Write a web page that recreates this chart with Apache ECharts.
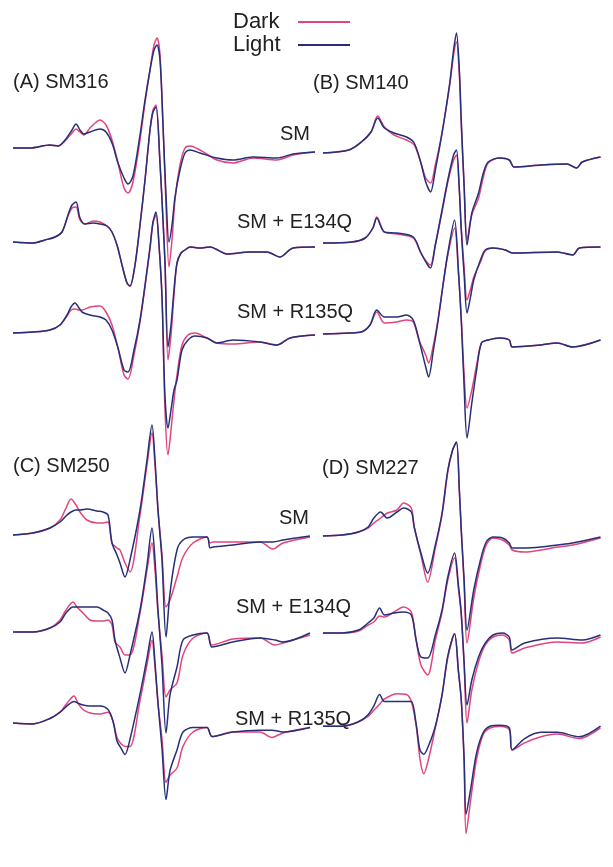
<!DOCTYPE html>
<html>
<head>
<meta charset="utf-8">
<title>EPR spectra dark / light</title>
<script src="https://cdn.jsdelivr.net/npm/echarts@6/dist/echarts.min.js"></script>
<style>
  html, body { margin: 0; padding: 0; background: #fff; }
  #chart { width: 613px; height: 867px; }
</style>
</head>
<body>
<div id="chart"></div>
<script>
// field (arb. units from left edge of each panel) and signal (arb. units, 0 = baseline)

// (A) SM316
var aSmField = [0,17,37,45,52,59,63,67,71,77,87,93,99,105,111,115,120,127,132,137,141,144,147,150,153,156,159,162,167,172,177,187,204,220,240,264,280,302]
var aSmDark = [0,0,3,2,7,15,19,16,13,20,28,23,8,-15,-40,-45,-34,8,45,78,103,110,93,23,-57,-119,-92,-52,-17,0,2,-2,-12,-15,-10,-12,-7,-4]
var aSmLight = [0,0,3,2,8,18,24,18,14,16,19,16,5,-15,-30,-36,-28,13,48,78,98,103,88,23,-47,-94,-77,-49,-22,-5,-2,-5,-10,-12,-9,-10,-6,-4]

var aEField = [0,20,32,42,49,55,59,63,67,72,80,87,94,99,104,109,114,117,122,127,132,137,140,143,147,150,152,155,158,161,164,168,172,177,187,197,214,237,254,267,280,302]
var aEDark = [0,-1,2,5,10,26,34,35,22,18,21,20,16,10,-3,-23,-41,-44,-23,17,62,112,132,137,79,22,-21,-118,-93,-53,-21,-11,-8,-5,-6,-5,-12,-10,-10,-15,-6,-5]
var aELight = [0,-1,2,5,10,27,37,40,24,18,19,18,16,10,-3,-23,-41,-44,-23,17,62,112,130,135,79,22,-21,-105,-83,-48,-21,-11,-8,-5,-6,-5,-12,-10,-10,-15,-6,-5]

var aRField = [0,20,37,47,54,58,62,66,69,77,87,93,99,105,111,115,121,127,132,137,140,143,146,149,152,155,158,161,164,169,175,182,194,204,220,247,264,277,302]
var aRDark = [0,1,3,8,17,23,24,23,23,26,27,21,8,-15,-42,-46,-22,11,46,84,110,118,88,36,-77,-122,-97,-67,-42,-12,-2,0,-5,-10,-11,-9,-12,-5,-2]
var aRLight = [0,1,3,8,18,26,30,25,21,18,16,13,3,-15,-37,-39,-17,13,48,86,111,121,88,36,-64,-95,-77,-57,-47,-17,-7,-3,-5,-10,-7,-9,-12,-5,-2]

// (B) SM140
var bSmField = [1,28,41,51,58,65,75,88,96,103,108,113,118,125,133,137,140,143,145,148,151,156,163,168,173,185,195,200,228,255,265,271,290]
var bSmDark = [0,3,11,21,37,26,18,13,8,-10,-25,-30,-12,20,68,98,111,78,28,-32,-87,-62,-45,-24,-10,-5,-7,-14,-12,-11,-15,-9,-4]
var bSmLight = [0,3,11,21,35,25,20,16,10,-10,-29,-39,-17,20,70,103,120,83,33,-34,-92,-60,-40,-20,-9,-5,-7,-14,-12,-11,-15,-9,-4]

var bEField = [1,31,45,53,57,65,78,95,103,110,113,118,125,131,137,140,143,145,148,151,155,158,165,170,178,191,198,245,261,268,290]
var bEDark = [0,1,5,15,26,11,9,5,-10,-20,-22,-2,31,61,83,88,53,15,-25,-57,-45,-34,-19,-8,-5,-7,-10,-9,-12,-5,-4]
var bELight = [0,1,5,15,25,11,10,6,-10,-22,-25,-2,33,63,88,93,53,13,-32,-70,-52,-37,-17,-7,-5,-7,-10,-9,-12,-5,-4]

var bRField = [1,28,41,50,57,65,78,88,95,101,108,111,116,121,126,131,138,142,145,148,151,156,161,166,173,185,195,198,228,245,261,290]
var bRDark = [-1,0,1,8,21,10,11,13,11,-7,-22,-30,-12,15,48,78,105,61,15,-42,-75,-57,-32,-10,-7,-5,-7,-14,-12,-10,-14,-7]
var bRLight = [-1,0,1,8,23,16,16,18,13,-7,-34,-44,-17,13,48,80,113,63,13,-54,-105,-70,-37,-10,-7,-5,-7,-14,-12,-10,-14,-7]

// (C) SM250
var cSmField = [1,21,38,48,54,59,64,68,75,85,91,96,100,105,108,113,118,128,135,140,143,146,150,154,158,165,171,181,195,198,201,221,248,261,271,298]
var cSmDark = [0,2,7,15,27,36,30,23,15,12,12,13,-8,-13,-15,-28,-37,20,70,102,70,25,-20,-72,-65,-42,-22,-8,-2,-8,-7,-7,-7,-14,-8,-2]
var cSmLight = [0,2,7,13,19,23,25,25,26,24,23,20,-8,-20,-28,-42,-25,25,75,110,75,25,-25,-102,-58,-15,-5,-2,-2,-13,-12,-10,-7,-7,-5,-1]

var cEField = [1,21,38,48,54,61,65,71,78,85,91,96,100,103,108,113,118,128,135,140,143,146,150,154,158,165,171,181,195,200,221,248,263,271,298]
var cEDark = [0,0,4,12,22,30,25,19,12,11,11,12,7,-10,-15,-23,-23,19,62,89,62,19,-23,-65,-58,-51,-23,-6,-1,-13,-7,-6,-13,-11,-3]
var cELight = [0,0,4,10,19,25,25,25,25,25,22,19,12,-8,-26,-41,-23,22,67,104,72,22,-33,-101,-63,-35,-8,-3,-1,-15,-10,-6,-8,-10,-1]

var cRField = [1,21,38,48,55,62,66,71,78,88,96,101,105,109,113,118,128,135,140,143,146,150,154,158,165,171,181,195,200,221,248,260,271,298]
var cRDark = [0,-1,5,12,22,30,22,15,11,10,12,2,-16,-23,-26,-26,25,65,92,62,22,-18,-66,-58,-50,-26,-10,-5,-15,-10,-10,-16,-11,-5]
var cRLight = [0,-1,5,12,19,24,22,20,19,19,15,2,-20,-28,-35,-18,32,72,101,67,22,-28,-85,-53,-30,-10,-5,-5,-15,-10,-8,-8,-10,-5]

// (D) SM227
var dSmField = [1,21,38,48,54,61,68,78,85,93,96,103,110,118,125,131,136,140,143,145,148,151,158,165,171,178,188,195,198,211,228,245,261,290]
var dSmDark = [0,1,4,8,13,18,23,26,33,28,9,-19,-46,-12,21,64,86,94,46,6,-49,-107,-62,-29,-9,-2,-4,-9,-14,-16,-14,-11,-9,-2]
var dSmLight = [0,1,4,9,18,24,18,24,28,24,9,-17,-37,-9,23,66,86,94,46,6,-44,-94,-54,-24,-6,-1,-2,-7,-12,-12,-11,-9,-7,-1]

var dEField = [1,21,38,48,54,60,65,75,85,93,98,103,110,118,125,131,138,142,145,148,151,156,163,170,178,188,195,198,211,245,271,290]
var dEDark = [0,0,2,8,11,17,16,21,26,21,-7,-32,-42,-7,21,53,75,45,18,-32,-90,-57,-29,-12,-4,-2,-7,-20,-15,-9,-10,-4]
var dELight = [0,0,3,10,15,25,18,20,21,18,-7,-24,-25,-2,23,56,80,48,20,-30,-72,-47,-24,-10,-2,0,-4,-17,-10,-5,-7,-2]

var dRField = [1,21,38,48,54,60,65,78,88,93,98,102,106,111,118,125,131,138,142,145,148,150,155,161,168,175,185,195,198,211,228,245,268,290]
var dRDark = [0,0,5,11,18,25,31,37,36,28,1,-37,-54,-37,-2,35,78,105,63,30,-42,-122,-82,-37,-9,-2,0,-4,-27,-19,-12,-9,-14,-2]
var dRLight = [0,0,5,13,23,36,28,28,28,28,3,-27,-32,-22,0,36,80,105,63,30,-37,-100,-70,-30,-7,0,1,-2,-27,-14,-7,-7,-12,0]

var traces = [
  [aSmField, aSmDark, aSmLight], [aEField, aEDark, aELight], [aRField, aRDark, aRLight],
  [bSmField, bSmDark, bSmLight], [bEField, bEDark, bELight], [bRField, bRDark, bRLight],
  [cSmField, cSmDark, cSmLight], [cEField, cEDark, cELight], [cRField, cRDark, cRLight],
  [dSmField, dSmDark, dSmLight], [dEField, dEDark, dELight], [dRField, dRDark, dRLight]
]

// where each trace sits on the page: [left, baseline y]
var placement = [
  [13, 148], [13, 242], [13, 333],
  [322, 153], [322, 243], [322, 333],
  [12, 535], [12, 632], [12, 737],
  [322, 536], [322, 633], [322, 743]
]

var darkColor = '#e2457d'
var lightColor = '#262f78'
var font = '"Liberation Sans", Arial, Helvetica, sans-serif'

function zip(xs, ys) {
  return xs.map(function (x, i) { return [x, ys[i]] })
}

var grid = [], xAxis = [], yAxis = [], series = []
traces.forEach(function (t, i) {
  grid.push({ left: placement[i][0], top: placement[i][1] - 140, width: 303, height: 300 })
  xAxis.push({ type: 'value', gridIndex: i, min: 0, max: 303, show: false })
  yAxis.push({ type: 'value', gridIndex: i, min: -160, max: 140, show: false })
  ;[['Dark', t[1], darkColor], ['Light', t[2], lightColor]].forEach(function (s) {
    series.push({
      name: s[0],
      type: 'line',
      xAxisIndex: i,
      yAxisIndex: i,
      data: zip(t[0], s[1]),
      symbol: 'none',
      smooth: 0.3,
      clip: false,
      lineStyle: { color: s[2], width: 1.5 },
      itemStyle: { color: s[2] }
    })
  })
})

function label(text, x, y) {
  return {
    type: 'text',
    x: x,
    y: y,
    style: { text: text, font: '20px ' + font, fill: '#222', verticalAlign: 'middle' }
  }
}

var chart = echarts.init(document.getElementById('chart'))
chart.setOption({
  animation: false,
  backgroundColor: '#fff',
  legend: {
    data: ['Dark', 'Light'],
    orient: 'vertical',
    left: 228,
    top: 6,
    align: 'right',
    icon: 'rect',
    itemWidth: 52,
    itemHeight: 2,
    itemGap: 1,
    selectedMode: false,
    formatter: '{t|{name}}',
    textStyle: {
      color: '#222',
      rich: { t: { width: 60, align: 'left', fontSize: 22, fontFamily: font, color: '#222', lineHeight: 22 } }
    }
  },
  grid: grid,
  xAxis: xAxis,
  yAxis: yAxis,
  series: series,
  graphic: [
    label('(A) SM316', 13, 82),
    label('(B) SM140', 313, 83),
    label('(C) SM250', 13, 466),
    label('(D) SM227', 322, 468),
    label('SM', 280, 134),
    label('SM + E134Q', 237, 222),
    label('SM + R135Q', 237, 312),
    label('SM', 279, 518),
    label('SM + E134Q', 236, 607),
    label('SM + R135Q', 235, 719)
  ]
})
</script>
</body>
</html>
